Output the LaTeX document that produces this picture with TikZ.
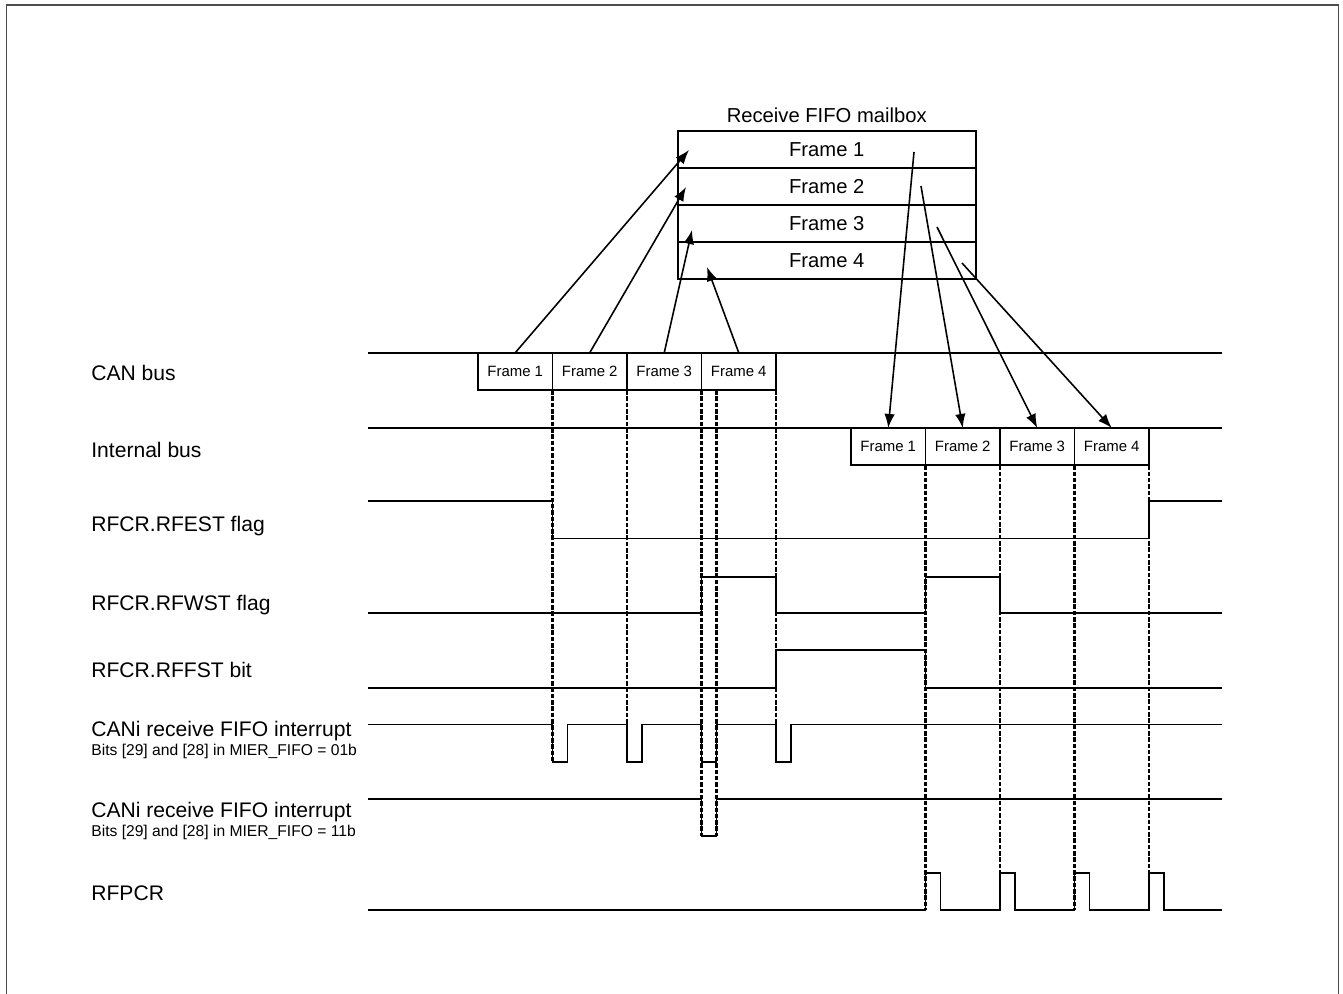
\documentclass[tikz,border=0pt]{standalone}
\usepackage{fontspec}
\setmainfont{Liberation Sans}
\usetikzlibrary{arrows.meta,calc,positioning}

\tikzset{
    sig/.style={line width=1.1pt},
    guide/.style={line width=1.4pt, dash pattern=on 2.6pt off 1pt},
    busframe/.style={draw, line width=1.1pt, minimum width=1.49cm, minimum height=0.745cm,
        inner sep=0pt, outer sep=0pt, font=\fontsize{8.5}{10}\selectfont},
    mbrow/.style={draw, line width=1.1pt, minimum width=5.954cm, minimum height=0.742cm,
        inner sep=0pt, outer sep=0pt, font=\fontsize{11.5}{13}\selectfont},
    siglabel/.style={anchor=base west, inner sep=0pt, font=\fontsize{12}{14}\selectfont},
    sublabel/.style={anchor=base west, inner sep=0pt, font=\fontsize{8.9}{10}\selectfont},
    feed/.style={line width=0.9pt, -{Latex[length=8pt,width=6pt]}},
}

\begin{document}
\begin{tikzpicture}

\useasboundingbox (0,0) rectangle (26.86,-19.88);
\draw[line width=0.9pt, black!70] (0.13,-19.88) -- (0.13,-0.10) -- (26.77,-0.10) -- (26.77,-19.88);

% ==================== MAILBOX ====================
\node[mbrow] (mb1) at (16.535,-2.984) {Frame 1};
\node[mbrow, below=0pt of mb1] (mb2) {Frame 2};
\node[mbrow, below=0pt of mb2] (mb3) {Frame 3};
\node[mbrow, below=0pt of mb3] (mb4) {Frame 4};
\node[above=1pt of mb1, font=\fontsize{11.5}{13}\selectfont] (mbtitle) {Receive FIFO mailbox};

% arrow ends inside the mailbox
\coordinate (in1) at (13.78,-3.00);
\coordinate (in2) at (13.72,-3.74);
\coordinate (in3) at (13.84,-4.60);
\coordinate (in4) at (14.14,-5.34);
\coordinate (out1) at (18.28,-3.04);
\coordinate (out2) at (18.42,-3.72);
\coordinate (out3) at (18.74,-4.54);
\coordinate (out4) at (19.24,-5.26);

% ==================== BUSES ====================
% CAN bus
\draw[sig] (7.36,-7.055) -- (24.44,-7.055);
\node[busframe] (can1) at (10.305,-7.427) {Frame 1};
\node[busframe, right=0pt of can1] (can2) {Frame 2};
\node[busframe, right=0pt of can2] (can3) {Frame 3};
\node[busframe, right=0pt of can3] (can4) {Frame 4};

% Internal bus
\draw[sig] (7.36,-8.56) -- (24.44,-8.56);
\node[busframe] (int1) at (17.765,-8.932) {Frame 1};
\node[busframe, right=0pt of int1] (int2) {Frame 2};
\node[busframe, right=0pt of int2] (int3) {Frame 3};
\node[busframe, right=0pt of int3] (int4) {Frame 4};

% Frames into and out of the mailbox
\draw[feed] (can1.north) -- (in1);
\draw[feed] (can2.north) -- (in2);
\draw[feed] (can3.north) -- (in3);
\draw[feed] (can4.north) -- (in4);
\draw[feed] (out1) -- (int1.north);
\draw[feed] (out2) -- (int2.north);
\draw[feed] (out3) -- (int3.north);
\draw[feed] (out4) -- (int4.north);

% ==================== GUIDES ====================
\coordinate (can4mid) at ($(can4.south west)+(0.30,0)$);
\draw[guide] (can1.south east) -- (can1.south east |- 0,-15.24);
\draw[guide] (can2.south east) -- (can2.south east |- 0,-15.24);
\draw[guide] (can3.south east) -- (can3.south east |- 0,-16.72);
\draw[guide] (can4mid) -- (can4mid |- 0,-16.72);
\draw[guide] (can4.south east) -- (can4.south east |- 0,-15.24);

\draw[guide] (int1.south east) -- (int1.south east |- 0,-18.20);
\draw[guide] (int2.south east) -- (int2.south east |- 0,-18.20);
\draw[guide] (int3.south east) -- (int3.south east |- 0,-18.20);
\draw[guide] (int4.south east) -- (int4.south east |- 0,-18.20);

% ==================== WAVEFORMS ====================
% RFEST
\draw[sig] (7.36,-10.02) -- (11.05,-10.02) -- (11.05,-10.77) -- (22.98,-10.77)
    -- (22.98,-10.02) -- (24.44,-10.02);
% RFWST
\draw[sig] (7.36,-12.26) -- (14.03,-12.26) -- (14.03,-11.54) -- (15.52,-11.54)
    -- (15.52,-12.26) -- (18.51,-12.26) -- (18.51,-11.54) -- (20.00,-11.54)
    -- (20.00,-12.26) -- (24.44,-12.26);
% RFFST
\draw[sig] (7.36,-13.76) -- (15.52,-13.76) -- (15.52,-13.00) -- (18.51,-13.00)
    -- (18.51,-13.76) -- (24.44,-13.76);
% Interrupt, 01b
\draw[sig] (7.36,-14.49) -- (11.05,-14.49) -- (11.05,-15.24) -- (11.35,-15.24)
    -- (11.35,-14.49) -- (12.54,-14.49) -- (12.54,-15.24) -- (12.84,-15.24)
    -- (12.84,-14.49) -- (14.03,-14.49) -- (14.03,-15.24) -- (14.33,-15.24)
    -- (14.33,-14.49) -- (15.52,-14.49) -- (15.52,-15.24) -- (15.82,-15.24)
    -- (15.82,-14.49) -- (24.44,-14.49);
% Interrupt, 11b
\draw[sig] (7.36,-15.98) -- (14.03,-15.98) -- (14.03,-16.72) -- (14.33,-16.72)
    -- (14.33,-15.98) -- (24.44,-15.98);
% RFPCR
\draw[sig] (7.36,-18.20) -- (18.51,-18.20) -- (18.51,-17.46) -- (18.81,-17.46)
    -- (18.81,-18.20) -- (20.00,-18.20) -- (20.00,-17.46) -- (20.30,-17.46)
    -- (20.30,-18.20) -- (21.49,-18.20) -- (21.49,-17.46) -- (21.79,-17.46)
    -- (21.79,-18.20) -- (22.98,-18.20) -- (22.98,-17.46) -- (23.28,-17.46)
    -- (23.28,-18.20) -- (24.44,-18.20);

% ==================== LABELS ====================
\node[siglabel] (lcan) at (1.82,-7.61) {CAN bus};
\node[siglabel] (lint) at (1.82,-9.15) {Internal bus};
\node[siglabel] (lrfest) at (1.82,-10.63) {RFCR.RFEST flag};
\node[siglabel] (lrfwst) at (1.82,-12.21) {RFCR.RFWST flag};
\node[siglabel] (lrffst) at (1.82,-13.55) {RFCR.RFFST bit};
\node[siglabel] (lirqa) at (1.82,-14.72) {CANi receive FIFO interrupt};
\node[sublabel] (lirqabits) at (1.82,-15.10) {Bits [29] and [28] in MIER\_FIFO = 01b};
\node[siglabel] (lirqb) at (1.82,-16.34) {CANi receive FIFO interrupt};
\node[sublabel] (lirqbbits) at (1.82,-16.72) {Bits [29] and [28] in MIER\_FIFO = 11b};
\node[siglabel] (lrfpcr) at (1.82,-18.00) {RFPCR};

\end{tikzpicture}
\end{document}
